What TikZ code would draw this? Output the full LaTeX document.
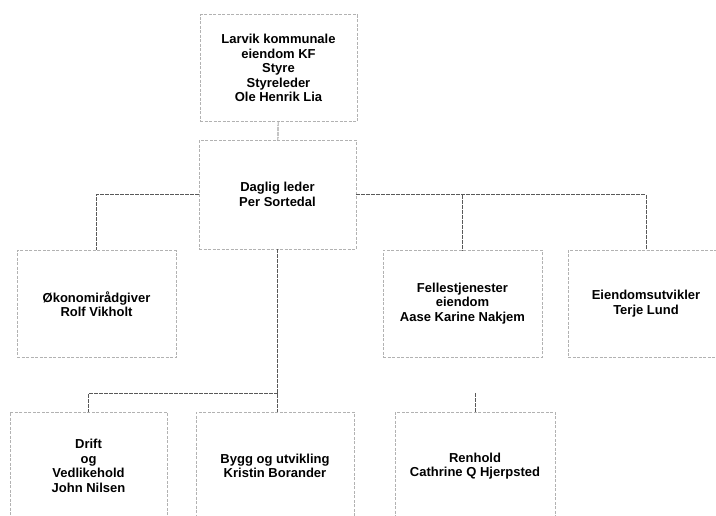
\documentclass[tikz,border=0pt]{standalone}
\usepackage{fontspec}
\setmainfont{Liberation Sans}
\usepackage{tikz}

\begin{document}
\begin{tikzpicture}[x=1pt,y=-1pt,
	boks/.style={draw=gray!60, line width=0.5pt, dash pattern=on 3pt off 1.5pt,
		rectangle, minimum width=157pt, minimum height=107pt, inner sep=0pt,
		align=center, font=\bfseries\fontsize{13}{14.5}\selectfont},
	linje/.style={draw=gray!70!black, line width=0.6pt, dash pattern=on 4pt off 1pt}]
	\useasboundingbox (0,0) rectangle (716,515);
	\node[boks] (L) at (278.5,68)
	{Larvik kommunale\\eiendom KF\\Styre\\Styreleder\\Ole Henrik Lia};%
	\node[boks, minimum height=109pt] (D) at (277.5,194.5)
	{Daglig leder\\Per Sortedal};%
	\node[boks, minimum width=159pt] (O) at (96.5,304)
	{Økonomirådgiver\\Rolf Vikholt};
	\node[boks, minimum width=159pt] (F) at (462.5,303.5)
	{Fellestjenester\\eiendom\\Aase Karine Nakjem};
	\node[boks, minimum width=156pt] (E) at (646,303.5)
	{Eiendomsutvikler\\Terje Lund};
	\node[boks, minimum height=108pt] (DV) at (88.5,466)
	{Drift\\og\\Vedlikehold\\John Nilsen};
	\node[boks, minimum width=158pt, minimum height=108pt] (B) at (275,466)
	{Bygg og utvikling\\Kristin Borander};
	\node[boks, minimum width=160pt, minimum height=108pt] (R) at (475,466)
	{Renhold\\Cathrine Q Hjerpsted};
	\coordinate (K) at (277.5,393);
	\coordinate (RK) at (475,393);
	
	\draw[linje] (L) -- (D) ;
	\draw[linje] (D.west) -| (O.north) ;
	\draw[linje] (D.east) -| (E.north) ;
	\draw[linje] (D.east -| F.north) -- (F.north) ;
	\draw[linje] (D.south) -- (D.south |- B.north) ;
	\draw[linje] (K) -| (DV.north) ;
	\draw[linje] (RK) -- (R.north) ;
\end{tikzpicture}
\end{document}
